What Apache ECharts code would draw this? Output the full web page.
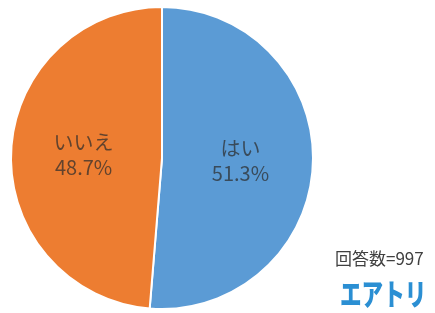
<!DOCTYPE html>
<html>
<head>
<meta charset="utf-8">
<script src="https://cdn.jsdelivr.net/npm/echarts@6/dist/echarts.min.js"></script>
<style>
  html, body { margin: 0; padding: 0; background: #fff; }
  #chart { width: 435px; height: 313px; }
</style>
</head>
<body>
<div id="chart"></div>
<script>
// 回答データ
const categories = ["はい", "いいえ"];
const percents = [51.3, 48.7];
const colors = ["#5b9bd5", "#ed7d31"];
const totalCount = 997;

const chart = echarts.init(document.getElementById("chart"));

const option = {
  animation: false,
  color: colors,
  graphic: [
    {
      type: "text",
      left: 335,
      top: 250,
      style: {
        text: "回答数=" + totalCount,
        font: '17px "Noto Sans CJK JP"',
        fill: "#404040",
      },
    },
    {
      // ロゴ (横に少し詰める)
      type: "text",
      x: 340,
      y: 279,
      scaleX: 0.72,
      style: {
        text: "エアトリ",
        font: '900 30px "Noto Sans CJK JP"',
        fill: "#2b8fd3",
      },
    },
  ],
  series: [
    {
      type: "pie",
      center: [162, 158],
      radius: [0, 151],
      startAngle: 90,
      clockwise: true,
      itemStyle: {
        borderColor: "#fff",
        borderWidth: 2,
      },
      label: {
        position: "inner",
        formatter: (p) => p.name + "\n" + p.value.toFixed(1) + "%",
        fontSize: 20,
        lineHeight: 25,
        fontFamily: '"Noto Sans CJK JP"',
        color: "rgba(45,45,45,0.72)",
      },
      labelLine: { show: false },
      emphasis: { disabled: true },
      data: categories.map((c, i) => ({ name: c, value: percents[i] })),
    },
  ],
};

chart.setOption(option);
</script>
</body>
</html>
